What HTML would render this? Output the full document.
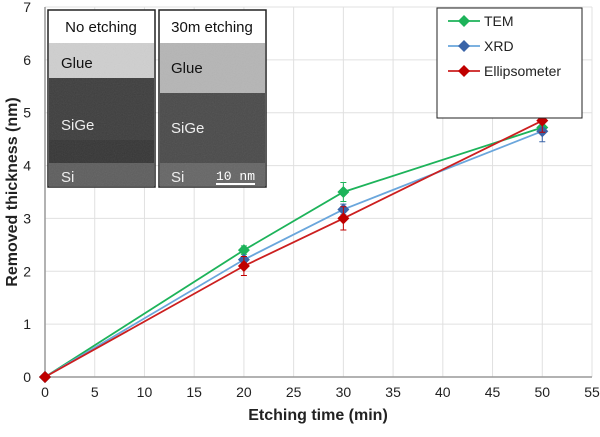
<!DOCTYPE html>
<html><head><meta charset="utf-8"><style>
body{margin:0;background:#fff;font-family:"Liberation Sans",Arial,sans-serif}
</style></head><body>
<svg id="c" width="600" height="432" xmlns="http://www.w3.org/2000/svg" font-family="Liberation Sans, Arial, sans-serif">
<defs>
<filter id="noise"><feTurbulence type="fractalNoise" baseFrequency="0.9" numOctaves="2" result="n"/><feColorMatrix type="saturate" values="0"/><feComponentTransfer><feFuncA type="linear" slope="0.12"/></feComponentTransfer><feComposite in2="SourceGraphic" operator="in"/></filter>
</defs>
<g id="grid"></g>
<g id="axes"></g>
<g id="series"></g>
<g>
 <g>
  <rect x="48" y="10" width="107" height="177" fill="#fff" stroke="#222" stroke-width="1.5"/>
  <text x="101" y="32" font-size="15" text-anchor="middle" fill="#111">No etching</text>
  <rect x="49" y="43" width="105" height="35" fill="#cfcfcf"/>
  <rect x="49" y="78" width="105" height="85" fill="#3e3e3e"/>
  <rect x="49" y="140" width="105" height="23" fill="#363636"/>
  <rect x="49" y="163" width="105" height="23" fill="#5e5e5e"/>
  <rect x="49" y="43" width="105" height="143" fill="#888" filter="url(#noise)"/>
  <text x="61" y="68" font-size="15" fill="#111">Glue</text>
  <text x="61" y="130" font-size="15" fill="#eee">SiGe</text>
  <text x="61" y="182" font-size="15" fill="#eee">Si</text>
 </g>
 <g>
  <rect x="159" y="10" width="107" height="177" fill="#fff" stroke="#222" stroke-width="1.5"/>
  <text x="212" y="32" font-size="15" text-anchor="middle" fill="#111">30m etching</text>
  <rect x="160" y="43" width="105" height="50" fill="#b5b5b5"/>
  <rect x="160" y="93" width="105" height="70" fill="#4a4a4a"/>
  <rect x="160" y="163" width="105" height="23" fill="#666"/>
  <rect x="160" y="43" width="105" height="143" fill="#888" filter="url(#noise)"/>
  <text x="171" y="73" font-size="15" fill="#111">Glue</text>
  <text x="171" y="133" font-size="15" fill="#eee">SiGe</text>
  <text x="171" y="182" font-size="15" fill="#eee">Si</text>
  <line x1="216" y1="184" x2="255" y2="184" stroke="#fff" stroke-width="2"/>
  <text x="216" y="180" font-size="13" font-family="Liberation Mono, monospace" fill="#fff">10 nm</text>
 </g>
</g>
<g>
 <rect x="437" y="8" width="145" height="110" fill="#fff" stroke="#222" stroke-width="1"/>
 <g id="leg"></g>
</g>
<text x="318" y="420" font-size="16" font-weight="bold" text-anchor="middle" fill="#222">Etching time (min)</text>
<text transform="translate(17,192) rotate(-90)" font-size="16" font-weight="bold" text-anchor="middle" fill="#222">Removed thickness (nm)</text>
</svg>
<script>
const xValues=[0,20,30,50];
const temValues=[0,2.4,3.5,4.72];
const xrdValues=[0,2.22,3.17,4.65];
const ellValues=[0,2.1,3.0,4.85];
const temErr=[0,0.08,0.18,0.1];
const xrdErr=[0,0.06,0.1,0.2];
const ellErr=[0,0.18,0.22,0.22];
const xTicks=[0,5,10,15,20,25,30,35,40,45,50,55];
const yTicks=[0,1,2,3,4,5,6,7];
const seriesNames=["TEM","XRD","Ellipsometer"];
const NS="http://www.w3.org/2000/svg";
const L=45,R=592,T=7,B=377;
const sx=v=>L+(v-0)/55*(R-L);
const sy=v=>B-(v/7)*(B-T);
function mk(p,tag,a){const e=document.createElementNS(NS,tag);for(const k in a)e.setAttribute(k,a[k]);p.appendChild(e);return e;}
const grid=document.getElementById('grid'),axes=document.getElementById('axes'),ser=document.getElementById('series'),leg=document.getElementById('leg');
xTicks.forEach(t=>{
 const g=mk(grid,'line',{x1:sx(t),x2:sx(t),y1:T,y2:B,stroke:'#e0e0e0','stroke-width':1});
 
 
 const tx=mk(axes,'text',{x:sx(t),y:B+20,'font-size':14,'text-anchor':'middle',fill:'#222'});
 tx.textContent=t;
 
 
});
yTicks.forEach(t=>{
 const g=mk(grid,'line',{x1:L,x2:R,y1:sy(t),y2:sy(t),stroke:'#e0e0e0','stroke-width':1});
 
 
 const tx=mk(axes,'text',{x:L-14,y:sy(t)+5,'font-size':14,'text-anchor':'end',fill:'#222'});
 tx.textContent=t;
 
 
});
const ax=mk(axes,'path',{d:`M${L},${T}V${B}H${R}`,fill:'none',stroke:'#999','stroke-width':1.5});


const series=[[temValues,temErr,'#1db35a','#1db35a'],[xrdValues,xrdErr,'#6aa6dc','#3a64a8'],[ellValues,ellErr,'#cc1f1f','#c00000']];
series.forEach((s,i)=>{
 const [vals,err,lc,mc]=s;
 const g=mk(ser,'g',{});
 
 
 const ln=mk(g,'polyline',{points:xValues.map((x,j)=>sx(x)+','+sy(vals[j])).join(' '),fill:'none',stroke:lc,'stroke-width':1.8});
 
 
 xValues.forEach((x,j)=>{
  if(err[j]>0){
   const e=mk(g,'path',{d:`M${sx(x)},${sy(vals[j]-err[j])}V${sy(vals[j]+err[j])}M${sx(x)-3},${sy(vals[j]-err[j])}h6M${sx(x)-3},${sy(vals[j]+err[j])}h6`,stroke:mc,'stroke-width':1,fill:'none'});
   
   
  }
  const cx=sx(x),cy=sy(vals[j]);
  const m=mk(g,'path',{d:`M${cx},${cy-6}L${cx+6},${cy}L${cx},${cy+6}L${cx-6},${cy}Z`,fill:mc});
  
  
 });
 const ly=21+i*25;
 const e=mk(leg,'g',{});
 
 
 mk(e,'line',{x1:448,x2:480,y1:ly,y2:ly,stroke:lc,'stroke-width':1.8});
 mk(e,'path',{d:`M464,${ly-6}L470,${ly}L464,${ly+6}L458,${ly}Z`,fill:mc});
 const t=mk(e,'text',{x:484,y:ly+5,'font-size':14,fill:'#222'});
 t.textContent=seriesNames[i];
});
</script>
</body></html>
